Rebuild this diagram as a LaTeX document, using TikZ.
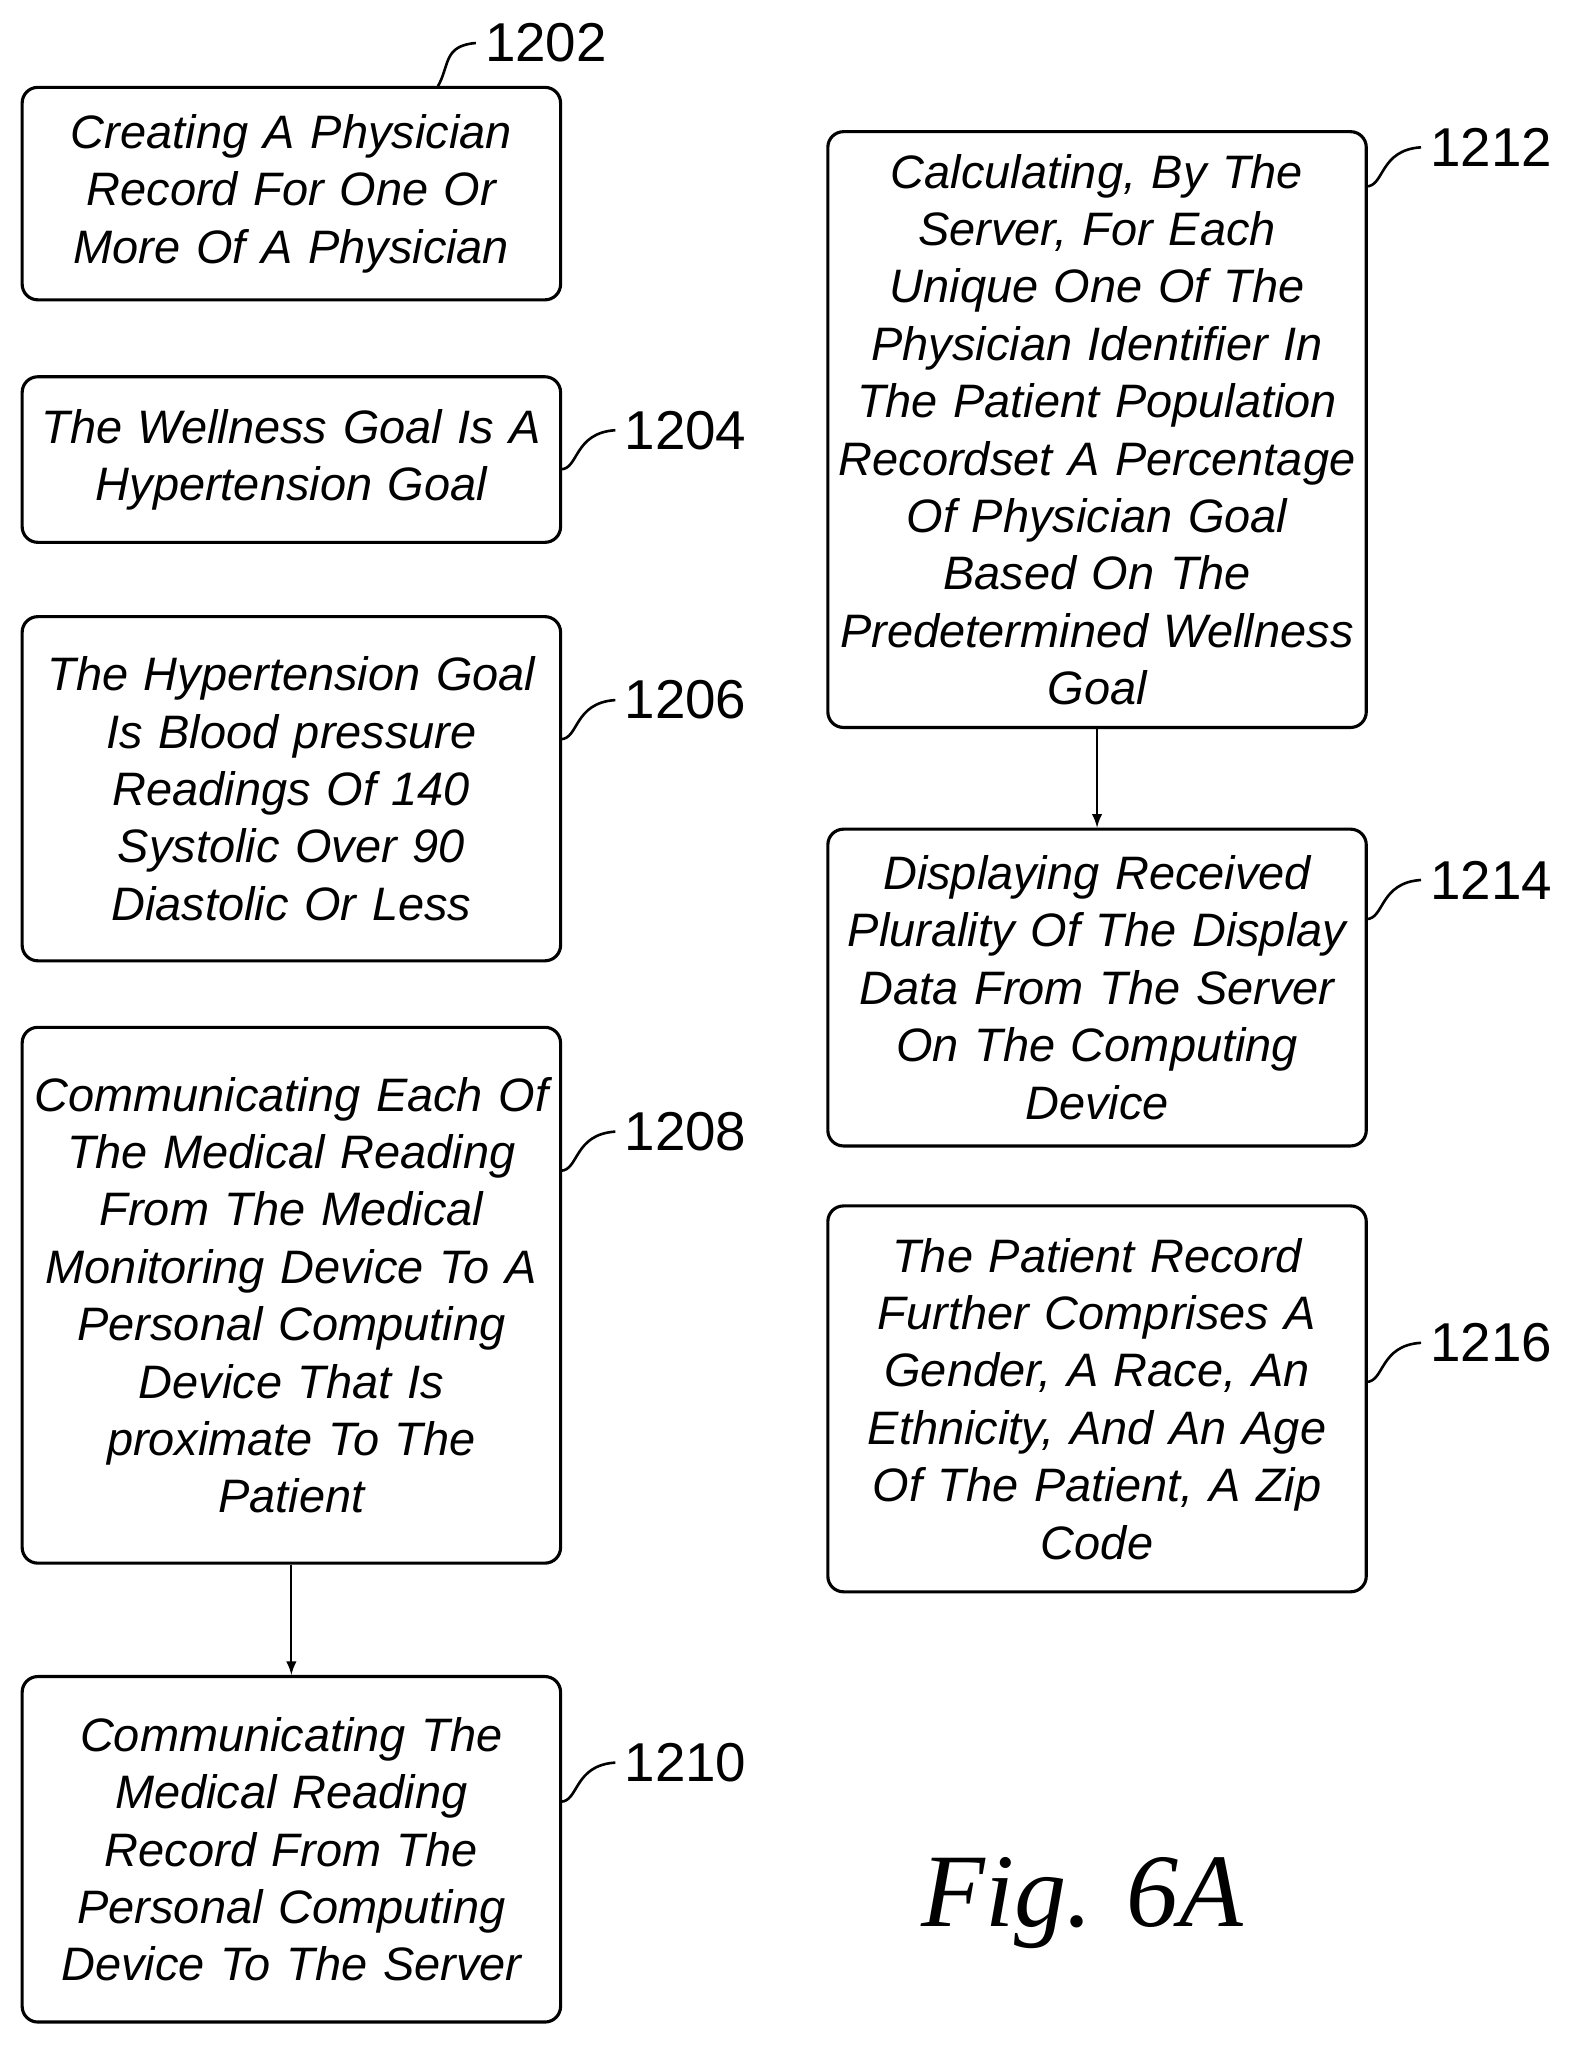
\documentclass[tikz,border=0pt]{standalone}
\usepackage{fontspec}
\setmainfont{Liberation Sans}
\newfontfamily\figfont{Liberation Serif}
\begin{document}
\begin{tikzpicture}[x=0.5pt,y=-0.5pt,
 box/.style={draw,line width=1.2pt,rounded corners=6pt,align=center,inner sep=0pt,
   font=\fontsize{18}{22}\selectfont\itshape},
 lab/.style={font=\fontsize{21}{24}\selectfont},
 lead/.style={line width=1pt},
 arr/.style={line width=0.8pt,-latex}]
\useasboundingbox (0,0) rectangle (1210,1574);
\def\bx#1#2#3#4#5#6{\node[box,minimum width=206.5pt,minimum height={(#5-#4)*0.5pt},text width=204pt] (#1) at (#2+206.5,#4/2+#5/2) {#6};}
\bx{a}{17}{}{67}{230}{Creating A Physician\\Record For One Or\\More Of A Physician}
\bx{b}{17}{}{289}{416}{The Wellness Goal Is A\\Hypertension Goal}
\bx{c}{17}{}{473}{737}{The Hypertension Goal\\Is Blood pressure\\Readings Of 140\\Systolic Over 90\\Diastolic Or Less}
\bx{d}{17}{}{788}{1199}{Communicating Each Of\\The Medical Reading\\From The Medical\\Monitoring Device To A\\Personal Computing\\Device That Is\\proximate To The\\Patient}
\bx{e}{17}{}{1286}{1551}{Communicating The\\Medical Reading\\Record From The\\Personal Computing\\Device To The Server}
\bx{f}{635}{}{101}{558}{Calculating, By The\\Server, For Each\\Unique One Of The\\Physician Identifier In\\The Patient Population\\Recordset A Percentage\\Of Physician Goal\\Based On The\\Predetermined Wellness\\Goal}
\bx{g}{635}{}{636}{879}{Displaying Received\\Plurality Of The Display\\Data From The Server\\On The Computing\\Device}
\bx{h}{635}{}{925}{1221}{The Patient Record\\Further Comprises A\\Gender, A Race, An\\Ethnicity, And An Age\\Of The Patient, A Zip\\Code}
\draw[arr] (d.south) -- (e.north);
\draw[arr] (f.south) -- (g.north);
\node[lab,anchor=west] (la) at (365,33) {1202};
\coordinate (ca) at (336,66);
\draw[lead] (ca) .. controls (345,50) and (340,35) .. (la.west);
\def\rl#1#2#3#4{\node[lab,anchor=west] (l#1) at (#3+42,#4) {#2};
 \coordinate (c#1) at (#3,#4+30);
 \draw[lead] (c#1) .. controls (#3+14,#4+30) and (#3+10,#4+2) .. (l#1.west);}
\rl{b}{1204}{430}{330}
\rl{c}{1206}{430}{537}
\rl{d}{1208}{430}{868}
\rl{e}{1210}{430}{1352}
\rl{f}{1212}{1048}{113}
\rl{g}{1214}{1048}{675}
\rl{h}{1216}{1048}{1030}
\node[font=\figfont\itshape\fontsize{40}{44}\selectfont] (fig) at (830,1460) {Fig. 6A};
\end{tikzpicture}
\end{document}
